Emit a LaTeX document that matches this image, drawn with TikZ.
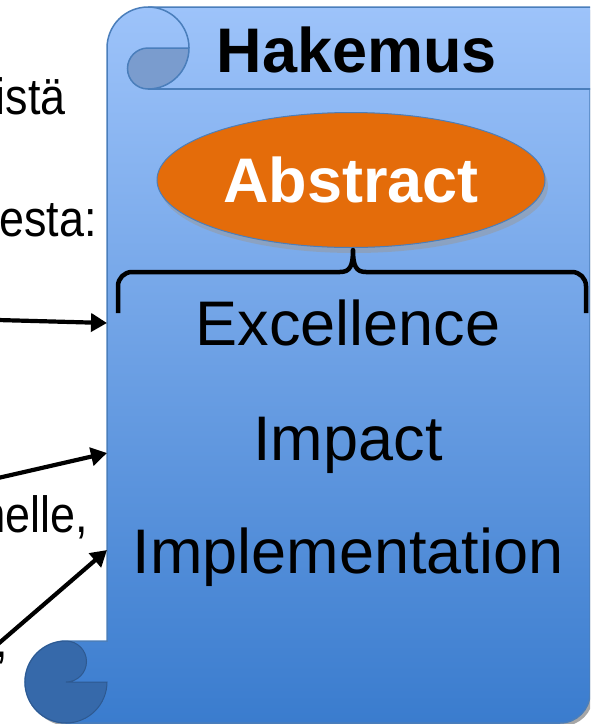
\documentclass[tikz,border=0pt]{standalone}
\usepackage{fontspec}
\setmainfont{Liberation Sans}
\newfontfamily\narrowfont[FakeStretch=0.88]{Liberation Sans}
\usetikzlibrary{shapes.geometric,arrows.meta}
\definecolor{scrolltop}{RGB}{157,195,250}
\definecolor{scrollbot}{RGB}{58,124,206}
\definecolor{scrollline}{RGB}{74,126,187}
\definecolor{curltop}{RGB}{122,156,206}
\definecolor{curlbot}{RGB}{54,105,170}
\definecolor{abstractorange}{RGB}{228,108,10}
% outline of the scroll (pixel coordinates, y downwards)
\newcommand{\scrollbody}{(107,48) arc[start angle=180,end angle=270,radius=41] -- (640,7) -- (640,89) -- (590,89) -- (590,693) arc[start angle=0,end angle=90,radius=30] -- (66,723) arc[start angle=90,end angle=270,radius=41] -- (107,641) -- cycle}

\begin{document}
\begin{tikzpicture}[x=1pt,y=1pt,yscale=-1]
\tikzstyle{scrolledge}=[draw=scrollline,line width=1.5]
\tikzstyle{big text}=[font=\fontsize{63}{63}\selectfont,inner sep=0]
\tikzstyle{side text}=[font=\narrowfont\fontsize{51}{51}\selectfont,inner sep=0,anchor=base east]
\tikzstyle{abstract}=[ellipse,fill=abstractorange,draw=scrollline,line width=1,minimum width=388,minimum height=135,inner sep=0,text=white,font=\bfseries\fontsize{63}{63}\selectfont]
\tikzstyle{brace}=[line width=4.5,line join=round]
\tikzstyle{pointer}=[line width=4.2,-{Triangle[length=16,width=18]}]

\useasboundingbox (0,0) rectangle (590,724);
\clip (0,0) rectangle (590,724);

% scroll
\fill[black!35,shift={(3,3)}] \scrollbody;
\shade[top color=scrolltop,bottom color=scrollbot] \scrollbody;
\draw[scrolledge] \scrollbody;
\draw[scrolledge] (148,89) -- (640,89);
% top curl
\filldraw[fill=curltop,scrolledge] (148,48) -- (189,48) arc[start angle=0,end angle=90,radius=41]
    arc[start angle=90,end angle=270,radius=20.5] -- cycle;
\draw[scrolledge] (148,7) arc[start angle=270,end angle=360,radius=41];
% bottom curl
\filldraw[fill=curlbot,draw=curlbot!85!black,line width=1] (66,682) -- (107,682)
    arc[start angle=0,end angle=270,radius=41] arc[start angle=270,end angle=450,radius=20.5] -- cycle;

% title and abstract
\node[big text,font=\bfseries\fontsize{63}{63}\selectfont,anchor=base] (title) at (357,72) {Hakemus};
\fill[black!40,opacity=.5] (354,186) ellipse [x radius=194,y radius=67];
\node[abstract] (abs) at (351,180) {Abstract};

% brace below the abstract
\draw[brace] (118,313) -- (118,286) arc[start angle=180,end angle=270,radius=14] -- (340,272)
    .. controls (350,272) and (353,266) .. (353,250)
    .. controls (353,266) and (356,272) .. (366,272) -- (572,272)
    arc[start angle=270,end angle=360,radius=14] -- (586,313);

% parts of the application
\node[big text,anchor=base] (exc) at (348,345) {Excellence};
\node[big text,anchor=base] (imp) at (348,460) {Impact};
\node[big text,anchor=base] (impl) at (348,573) {Implementation};

% text cut off on the left
\node[side text] (t1) at (66,114) {istä};
\node[side text] (t2) at (97,236) {esta:};
\node[side text] (t3) at (88,532) {melle,};
\node[side text] (t4) at (8,657) {,};

% pointers into the scroll
\coordinate (s1) at (-2,320);
\coordinate (s2) at (-2,478);
\coordinate (s3) at (-2,644);
\coordinate (e1) at (107,323);
\coordinate (e2) at (107,453);
\coordinate (e3) at (107,550);
\draw[pointer] (s1) -- (e1);
\draw[pointer] (s2) -- (e2);
\draw[pointer] (s3) -- (e3);

\end{tikzpicture}
\end{document}
